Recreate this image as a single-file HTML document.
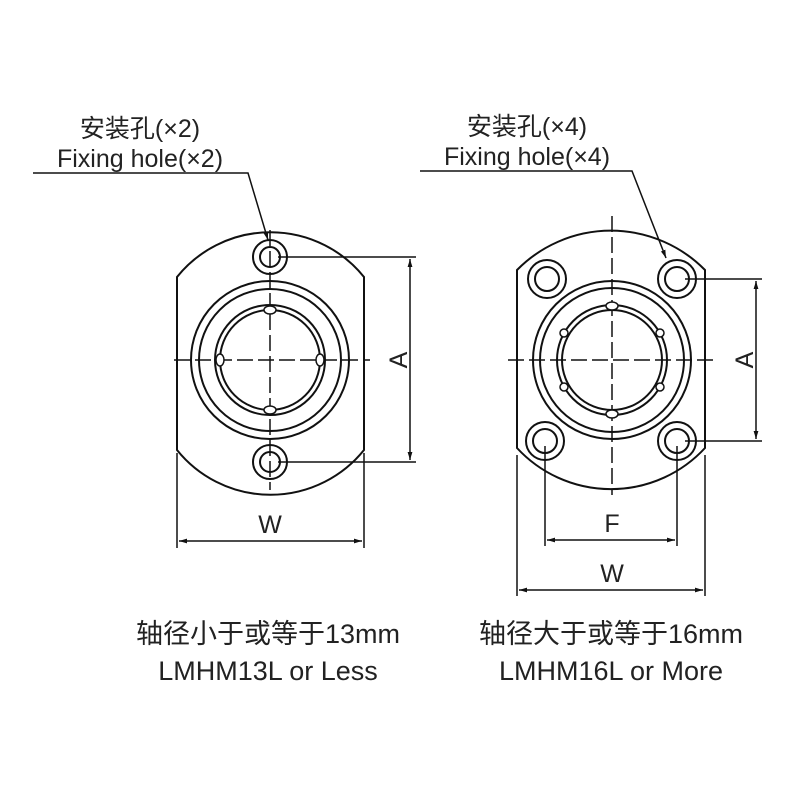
<!DOCTYPE html>
<html><head><meta charset="utf-8"><style>
html,body{margin:0;padding:0;background:#fff;}
svg{display:block;}
text{font-family:"Liberation Sans","Noto Sans CJK SC",sans-serif;fill:#222;}
</style></head><body>
<svg width="800" height="800" viewBox="0 0 800 800" xmlns="http://www.w3.org/2000/svg">
<defs>
<marker id="ar" viewBox="0 0 10 10" refX="10" refY="5" markerWidth="8" markerHeight="8" orient="auto-start-reverse" markerUnits="userSpaceOnUse"><path d="M0,2 L10,5 L0,8 z" fill="#111"/></marker>
</defs>
<g fill="none" stroke="#111" stroke-width="2">
<!-- LEFT -->
<path d="M177,277 A120,120 0 0 1 364,277 L364,450 A120,120 0 0 1 177,450 Z"/>
<circle cx="270" cy="360" r="79"/><circle cx="270" cy="360" r="71"/>
<circle cx="270" cy="360" r="55"/><circle cx="270" cy="360" r="50"/>
<circle cx="270" cy="257" r="17"/><circle cx="270" cy="257" r="10"/>
<circle cx="270" cy="462" r="17"/><circle cx="270" cy="462" r="10"/>
<g stroke-width="1.5" stroke-dasharray="16,5">
<line x1="174" y1="360" x2="370" y2="360"/><line x1="270" y1="230" x2="270" y2="490"/>
</g>
<line x1="278" y1="257" x2="416" y2="257" stroke-width="1.5"/>
<line x1="278" y1="462" x2="416" y2="462" stroke-width="1.5"/>
<line x1="410" y1="259" x2="410" y2="460" stroke-width="1.5" marker-start="url(#ar)" marker-end="url(#ar)"/>
<line x1="177" y1="453" x2="177" y2="548" stroke-width="1.5"/>
<line x1="364" y1="453" x2="364" y2="548" stroke-width="1.5"/>
<line x1="179" y1="541" x2="362" y2="541" stroke-width="1.5" marker-start="url(#ar)" marker-end="url(#ar)"/>
<polyline points="33,173 248,173 268,240" stroke-width="1.5" marker-end="url(#ar)"/>
<!-- RIGHT -->
<path d="M517,270 A132,132 0 0 1 705,270 L705,448 A128,128 0 0 1 517,448 Z"/>
<circle cx="612" cy="360" r="79"/><circle cx="612" cy="360" r="72"/>
<circle cx="612" cy="360" r="55"/><circle cx="612" cy="360" r="50"/>
<circle cx="547" cy="279" r="19"/><circle cx="547" cy="279" r="12"/>
<circle cx="677" cy="279" r="19"/><circle cx="677" cy="279" r="12"/>
<circle cx="545" cy="441" r="19"/><circle cx="545" cy="441" r="12"/>
<circle cx="677" cy="441" r="19"/><circle cx="677" cy="441" r="12"/>
<g stroke-width="1.5" stroke-dasharray="16,5">
<line x1="508" y1="360" x2="714" y2="360"/><line x1="612" y1="216" x2="612" y2="495"/>
</g>
<line x1="685" y1="279" x2="762" y2="279" stroke-width="1.5"/>
<line x1="685" y1="441" x2="762" y2="441" stroke-width="1.5"/>
<line x1="756" y1="281" x2="756" y2="439" stroke-width="1.5" marker-start="url(#ar)" marker-end="url(#ar)"/>
<line x1="545" y1="446" x2="545" y2="546" stroke-width="1.5"/>
<line x1="677" y1="446" x2="677" y2="546" stroke-width="1.5"/>
<line x1="547" y1="540" x2="675" y2="540" stroke-width="1.5" marker-start="url(#ar)" marker-end="url(#ar)"/>
<line x1="517" y1="455" x2="517" y2="596" stroke-width="1.5"/>
<line x1="705" y1="455" x2="705" y2="596" stroke-width="1.5"/>
<line x1="519" y1="590" x2="703" y2="590" stroke-width="1.5" marker-start="url(#ar)" marker-end="url(#ar)"/>
<polyline points="420,171 632,171 666,258" stroke-width="1.5" marker-end="url(#ar)"/>
</g>
<g fill="#fff" stroke="#111" stroke-width="1.5">
<ellipse cx="270" cy="310" rx="6" ry="4"/><ellipse cx="270" cy="410" rx="6" ry="4"/>
<ellipse cx="220" cy="360" rx="4" ry="6"/><ellipse cx="320" cy="360" rx="4" ry="6"/>
<ellipse cx="612" cy="306" rx="6" ry="4"/><ellipse cx="612" cy="414" rx="6" ry="4"/>
<circle cx="564" cy="333" r="4"/><circle cx="660" cy="333" r="4"/>
<circle cx="564" cy="387" r="4"/><circle cx="660" cy="387" r="4"/>
</g>
<g font-size="25">
<text x="140" y="137" text-anchor="middle">安装孔(×2)</text>
<text x="140" y="167" text-anchor="middle">Fixing hole(×2)</text>
<text x="527" y="135" text-anchor="middle">安装孔(×4)</text>
<text x="527" y="165" text-anchor="middle">Fixing hole(×4)</text>
<text x="270" y="533" text-anchor="middle">W</text>
<text x="612" y="532" text-anchor="middle">F</text>
<text x="612" y="582" text-anchor="middle">W</text>
<text transform="translate(407,360) rotate(-90)" text-anchor="middle">A</text>
<text transform="translate(753,360) rotate(-90)" text-anchor="middle">A</text>
</g>
<g font-size="27">
<text x="268" y="643" text-anchor="middle">轴径小于或等于13mm</text>
<text x="268" y="680" text-anchor="middle">LMHM13L or Less</text>
<text x="611" y="643" text-anchor="middle">轴径大于或等于16mm</text>
<text x="611" y="680" text-anchor="middle">LMHM16L or More</text>
</g>
</svg>
</body></html>
